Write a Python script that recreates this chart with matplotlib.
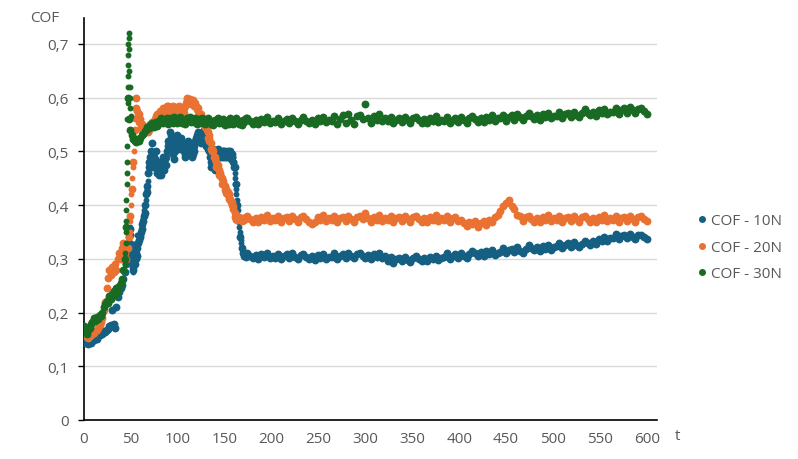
import numpy as np
import matplotlib
matplotlib.use("Agg")
import matplotlib.pyplot as plt
from matplotlib.ticker import FuncFormatter
from matplotlib.lines import Line2D

plt.rcParams['font.family'] = ['Open Sans', 'DejaVu Sans']

series_names = ["COF - 10N", "COF - 20N", "COF - 30N"]
colors = ["#156082", "#E97132", "#196B24"]

# ---- early part: t = 0, 1.5, 3, ... ----
blue_early = [
    0.148, 0.143, 0.145, 0.142, 0.146, 0.143, 0.147, 0.148, 0.152, 0.150,
    0.156, 0.158, 0.162, 0.160, 0.165, 0.163, 0.168, 0.170, 0.174, 0.176,
    0.205, 0.178, 0.172, 0.210, 0.228, 0.238, 0.245, 0.252, 0.262, 0.275,
    0.290, 0.305, 0.330, 0.355, 0.300, 0.285, 0.290, 0.310, 0.320, 0.335,
    0.340, 0.355, 0.370, 0.385, 0.420, 0.435, 0.470, 0.490, 0.515, 0.480,
    0.470, 0.500, 0.460, 0.455, 0.480, 0.470, 0.490, 0.465, 0.475, 0.500,
    0.520, 0.535, 0.525, 0.500, 0.485, 0.515, 0.530, 0.520, 0.505, 0.525,
    0.515, 0.500, 0.495, 0.510, 0.520, 0.505, 0.495, 0.490, 0.500, 0.520,
    0.530, 0.535, 0.525, 0.515, 0.530, 0.540, 0.525, 0.510, 0.505, 0.500,
    0.470, 0.500, 0.495, 0.465, 0.500, 0.505, 0.495, 0.500, 0.490, 0.500,
    0.495, 0.490, 0.500, 0.495, 0.490, 0.495, 0.480, 0.470, 0.440, 0.400,
    0.370, 0.340, 0.320, 0.310, 0.305, 0.303,
]
orange_early = [
    0.165, 0.158, 0.155, 0.153, 0.156, 0.158, 0.160, 0.162, 0.165, 0.168,
    0.172, 0.176, 0.182, 0.190, 0.205, 0.220, 0.245, 0.265, 0.280, 0.270,
    0.285, 0.275, 0.290, 0.280, 0.300, 0.310, 0.300, 0.320, 0.330, 0.310,
    0.300, 0.320, 0.340, 0.380, 0.430, 0.480, 0.540, 0.600, 0.575, 0.570,
    0.560, 0.550, 0.545, 0.540, 0.535, 0.545, 0.540, 0.548, 0.545, 0.550,
    0.555, 0.558, 0.560, 0.565, 0.568, 0.572, 0.575, 0.570, 0.578, 0.580,
    0.585, 0.575, 0.578, 0.580, 0.575, 0.578, 0.582, 0.578, 0.575, 0.580,
    0.578, 0.572, 0.585, 0.595, 0.598, 0.594, 0.590, 0.592, 0.588, 0.585,
    0.582, 0.575, 0.570, 0.565, 0.560, 0.555, 0.550, 0.545, 0.535, 0.525,
    0.515, 0.505, 0.500, 0.490, 0.480, 0.475, 0.465, 0.460, 0.450, 0.445,
    0.435, 0.430, 0.425, 0.420, 0.412, 0.405, 0.398, 0.385, 0.375, 0.372,
    0.378, 0.374, 0.370, 0.376, 0.373, 0.377,
]
green_early = [
    0.175, 0.165, 0.160, 0.168, 0.172, 0.178, 0.182, 0.190, 0.185, 0.192,
    0.188, 0.195, 0.193, 0.200, 0.210, 0.215, 0.222, 0.218, 0.230, 0.225,
    0.235, 0.240, 0.232, 0.245, 0.240, 0.250, 0.255, 0.262, 0.280, 0.300,
    0.360, 0.600, 0.560, 0.540, 0.530, 0.522, 0.520, 0.518, 0.522, 0.520,
    0.525, 0.530, 0.533, 0.538, 0.540, 0.545, 0.543, 0.548,
    0.553, 0.549, 0.546, 0.554, 0.547, 0.557, 0.553, 0.561, 0.552, 0.557,
    0.555, 0.562, 0.551, 0.558, 0.561, 0.553, 0.563, 0.557, 0.552, 0.560,
    0.563, 0.557, 0.552, 0.559, 0.551, 0.561, 0.556, 0.564, 0.554, 0.558,
    0.554, 0.561, 0.550, 0.557, 0.560, 0.552, 0.562, 0.556, 0.551, 0.559,
    0.561, 0.555, 0.550, 0.557, 0.549, 0.559, 0.554, 0.562, 0.552, 0.556,
    0.553, 0.560, 0.549, 0.556, 0.559, 0.551, 0.561, 0.555, 0.550, 0.558,
    0.561, 0.555, 0.550, 0.557, 0.549, 0.559, 0.554, 0.562,
]

# ---- in-between readings: blue at t = 45.75 + 1.5 i, orange at t = 55.75 + 1.5 i ----
blue_mid = [
    0.300, 0.320, 0.345, 0.310, 0.280, 0.300, 0.320, 0.305, 0.330, 0.345,
    0.350, 0.365, 0.380, 0.400, 0.425, 0.460, 0.480, 0.500, 0.470, 0.490,
    0.485, 0.470, 0.480, 0.465, 0.455, 0.480, 0.475, 0.485, 0.490, 0.510,
    0.515, 0.530, 0.510, 0.495, 0.500, 0.520, 0.510, 0.515, 0.520, 0.510,
    0.505, 0.490, 0.505, 0.515, 0.515, 0.500, 0.505, 0.495, 0.510, 0.525,
    0.520, 0.530, 0.520, 0.525, 0.535, 0.530, 0.520, 0.515, 0.510, 0.490,
    0.480, 0.505, 0.480, 0.490, 0.495, 0.500, 0.490, 0.495, 0.500, 0.490,
    0.500, 0.495, 0.490, 0.500, 0.485, 0.490, 0.470,
]
orange_mid = [
    0.580, 0.565, 0.555, 0.545, 0.540, 0.535, 0.545, 0.540, 0.535, 0.545,
    0.550, 0.555, 0.548, 0.560, 0.565, 0.570, 0.560, 0.575, 0.565, 0.580,
    0.578, 0.572, 0.585, 0.578, 0.582, 0.572, 0.585, 0.580, 0.572, 0.578,
    0.585, 0.580, 0.572, 0.575, 0.580, 0.590, 0.600, 0.592, 0.598, 0.588,
    0.595, 0.585, 0.590, 0.578, 0.580, 0.565, 0.570, 0.555, 0.560, 0.545,
    0.540, 0.525, 0.520, 0.505, 0.500, 0.490, 0.485, 0.470, 0.468, 0.455,
    0.452, 0.440, 0.438, 0.428, 0.422, 0.418, 0.412, 0.405, 0.400, 0.392,
    0.378,
]

# ---- extra readings on steep stretches (t, value) ----
blue_steep_t = [46, 47, 48, 49, 50, 51, 52, 53, 55, 56, 57,
                62, 63, 64, 65, 66, 67, 68, 69, 70, 71,
                159, 159.5, 160, 160.5, 161, 161.5, 162, 162.5, 163, 163.5,
                164, 164.5, 165, 165.5, 166, 166.5, 167, 167.5, 168, 168.5, 169, 170]
blue_steep_v = [0.32, 0.34, 0.31, 0.36, 0.33, 0.29, 0.275, 0.30, 0.33, 0.30, 0.345,
                0.36, 0.375, 0.39, 0.40, 0.41, 0.43, 0.445, 0.46, 0.48, 0.50,
                0.49, 0.48, 0.475, 0.46, 0.45, 0.44, 0.43, 0.42, 0.41, 0.40,
                0.39, 0.38, 0.37, 0.36, 0.35, 0.345, 0.335, 0.33, 0.322, 0.318, 0.312, 0.308]
orange_steep_t = [48.5, 49, 50, 50.5, 51.5, 52, 53, 53.5, 54.5, 55,
                  134, 137, 140, 143, 146, 149, 152, 155, 158, 160, 160.5, 161]
orange_steep_v = [0.35, 0.37, 0.40, 0.42, 0.45, 0.47, 0.50, 0.52, 0.56, 0.58,
                  0.53, 0.505, 0.485, 0.47, 0.455, 0.44, 0.425, 0.415, 0.40, 0.39, 0.38, 0.372]
green_steep_t = [44, 44.2, 44.4, 44.6, 44.8, 45, 45.2, 45.4, 45.6, 45.8, 46, 46.2, 46.4,
                 46.6, 46.8, 47, 47.2, 47.4, 47.6, 47.8, 48, 48.3, 48.6, 49, 49.5, 50]
green_steep_v = [0.29, 0.31, 0.33, 0.35, 0.37, 0.39, 0.41, 0.44, 0.46, 0.48, 0.51, 0.56, 0.59,
                 0.62, 0.64, 0.66, 0.68, 0.70, 0.72, 0.71, 0.69, 0.65, 0.62, 0.60, 0.58, 0.565]

# ---- late part: t = 174, 177, ..., 600 ----
blue_late = [
    0.310, 0.305, 0.301, 0.307, 0.300, 0.309, 0.304, 0.311, 0.302, 0.306,
    0.302, 0.309, 0.299, 0.305, 0.308, 0.301, 0.310, 0.304, 0.300, 0.307,
    0.308, 0.303, 0.299, 0.305, 0.298, 0.307, 0.302, 0.309, 0.300, 0.304,
    0.303, 0.310, 0.300, 0.306, 0.309, 0.302, 0.311, 0.305, 0.301, 0.308,
    0.310, 0.305, 0.301, 0.307, 0.300, 0.309, 0.304, 0.311, 0.302, 0.306,
    0.296, 0.303, 0.293, 0.299, 0.302, 0.295, 0.304, 0.298, 0.294, 0.301,
    0.305, 0.300, 0.296, 0.302, 0.295, 0.304, 0.299, 0.306, 0.297, 0.301,
    0.303, 0.310, 0.300, 0.306, 0.309, 0.302, 0.311, 0.305, 0.301, 0.308,
    0.315, 0.310, 0.306, 0.312, 0.305, 0.314, 0.309, 0.316, 0.307, 0.311,
    0.313, 0.320, 0.310, 0.316, 0.319, 0.312, 0.321, 0.315, 0.311, 0.318,
    0.325, 0.320, 0.316, 0.322, 0.315, 0.324, 0.319, 0.326, 0.317, 0.321,
    0.323, 0.330, 0.320, 0.326, 0.329, 0.322, 0.331, 0.325, 0.321, 0.328,
    0.333, 0.329, 0.326, 0.333, 0.327, 0.337, 0.333, 0.341, 0.333, 0.338,
    0.339, 0.346, 0.336, 0.342, 0.345, 0.338, 0.347, 0.341, 0.337, 0.344,
    0.345, 0.340, 0.336,
]
orange_late = [
    0.380, 0.374, 0.369, 0.376, 0.368, 0.378, 0.373, 0.381, 0.371, 0.375,
    0.372, 0.379, 0.368, 0.375, 0.378, 0.370, 0.380, 0.374, 0.369, 0.377,
    0.380, 0.374, 0.369, 0.364, 0.368, 0.378, 0.373, 0.381, 0.371, 0.375,
    0.372, 0.379, 0.368, 0.375, 0.378, 0.370, 0.380, 0.374, 0.369, 0.377,
    0.380, 0.374, 0.385, 0.376, 0.368, 0.378, 0.373, 0.381, 0.371, 0.375,
    0.372, 0.379, 0.368, 0.375, 0.378, 0.370, 0.380, 0.374, 0.369, 0.377,
    0.380, 0.374, 0.369, 0.376, 0.368, 0.378, 0.373, 0.381, 0.371, 0.375,
    0.372, 0.379, 0.368, 0.375, 0.378, 0.370, 0.372, 0.366, 0.361, 0.369,
    0.364, 0.371, 0.360, 0.367, 0.370, 0.362, 0.372, 0.368, 0.377, 0.381,
    0.388, 0.399, 0.404, 0.410, 0.398, 0.392, 0.382, 0.379, 0.370, 0.377,
    0.380, 0.374, 0.369, 0.376, 0.368, 0.378, 0.373, 0.381, 0.371, 0.375,
    0.372, 0.379, 0.368, 0.375, 0.378, 0.370, 0.380, 0.374, 0.369, 0.377,
    0.380, 0.374, 0.369, 0.376, 0.368, 0.378, 0.373, 0.381, 0.371, 0.375,
    0.372, 0.379, 0.368, 0.375, 0.378, 0.370, 0.380, 0.374, 0.369, 0.377,
    0.380, 0.374, 0.371,
]
green_late = [
    0.562, 0.556, 0.551, 0.558, 0.550, 0.560, 0.555, 0.563, 0.553, 0.557,
    0.554, 0.561, 0.550, 0.557, 0.560, 0.552, 0.562, 0.556, 0.551, 0.559,
    0.563, 0.557, 0.552, 0.559, 0.551, 0.561, 0.556, 0.564, 0.554, 0.558,
    0.556, 0.565, 0.551, 0.560, 0.568, 0.553, 0.570, 0.559, 0.550, 0.566,
    0.567, 0.560, 0.588, 0.562, 0.552, 0.566, 0.559, 0.569, 0.556, 0.561,
    0.556, 0.563, 0.552, 0.559, 0.562, 0.554, 0.564, 0.558, 0.553, 0.561,
    0.564, 0.558, 0.553, 0.560, 0.552, 0.562, 0.557, 0.565, 0.555, 0.559,
    0.556, 0.563, 0.552, 0.559, 0.562, 0.554, 0.564, 0.558, 0.553, 0.561,
    0.566, 0.560, 0.555, 0.562, 0.554, 0.564, 0.559, 0.567, 0.557, 0.561,
    0.561, 0.568, 0.557, 0.564, 0.567, 0.559, 0.569, 0.563, 0.558, 0.566,
    0.571, 0.565, 0.560, 0.567, 0.559, 0.569, 0.564, 0.572, 0.562, 0.566,
    0.566, 0.573, 0.562, 0.569, 0.572, 0.564, 0.574, 0.568, 0.563, 0.571,
    0.578, 0.572, 0.567, 0.574, 0.566, 0.576, 0.571, 0.579, 0.569, 0.573,
    0.574, 0.581, 0.570, 0.577, 0.580, 0.572, 0.582, 0.576, 0.571, 0.579,
    0.581, 0.575, 0.570,
]

x_ticks = np.arange(0, 601, 50)
y_ticks = np.arange(0, 0.71, 0.1)

def build(early, late, mid=None, mid_start=0.0):
    parts_t = [np.arange(len(early)) * 1.5, 174 + np.arange(len(late)) * 3]
    parts_v = [np.array(early), np.array(late)]
    if mid is not None:
        parts_t.append(mid_start + np.arange(len(mid)) * 1.5)
        parts_v.append(np.array(mid))
    return np.concatenate(parts_t), np.concatenate(parts_v)

main = [build(blue_early, blue_late, blue_mid, 45.75),
        build(orange_early, orange_late, orange_mid, 55.75),
        build(green_early, green_late)]
steep = [(blue_steep_t, blue_steep_v),
         (orange_steep_t, orange_steep_v),
         (green_steep_t, green_steep_v)]

fig = plt.figure(figsize=(7.98, 4.6), dpi=100)
ax = fig.add_axes([0.1053, 0.0848, 0.7180, 0.8739])

for (t, v), (st, sv), c in zip(main, steep, colors):
    ax.scatter(t, v, s=32, color=c, linewidths=0, zorder=3)
    ax.scatter(st, sv, s=18, color=c, linewidths=0, zorder=3)

ax.set_xlim(0, 611)
ax.set_ylim(0, 0.748)
ax.set_xticks(x_ticks)
ax.set_yticks(y_ticks)
fmt = FuncFormatter(lambda v, p: ("%g" % round(v, 2)).replace('.', ','))
ax.yaxis.set_major_formatter(fmt)
ax.grid(axis='y', color='#d9d9d9', linewidth=1.0, zorder=0)
ax.set_axisbelow(True)
for s in ['top', 'right']:
    ax.spines[s].set_visible(False)
ax.spines['left'].set_color('black')
ax.spines['bottom'].set_color('black')
ax.spines['left'].set_linewidth(1.2)
ax.spines['bottom'].set_linewidth(1.2)
ax.tick_params(axis='y', length=4, width=1, colors='black', labelcolor='#595959',
               labelsize=11, pad=7)
ax.tick_params(axis='x', length=0, labelcolor='#595959', labelsize=11, pad=8)

fig.text(30 / 798, 1 - 18 / 460, "COF", ha='left', va='center', fontsize=11, color='#595959')
fig.text(678 / 798, 1 - 437 / 460, "t", ha='center', va='center', fontsize=11, color='#595959')

handles = [Line2D([0], [0], marker='o', linestyle='', color=c, markersize=4) for c in colors]
fig.legend(handles, series_names, loc='center left', bbox_to_anchor=(0.853, 0.46),
           frameon=False, fontsize=11, labelcolor='#595959', handletextpad=0.1,
           labelspacing=0.75, handlelength=1.0)

fig.savefig("out.png", dpi=100)
